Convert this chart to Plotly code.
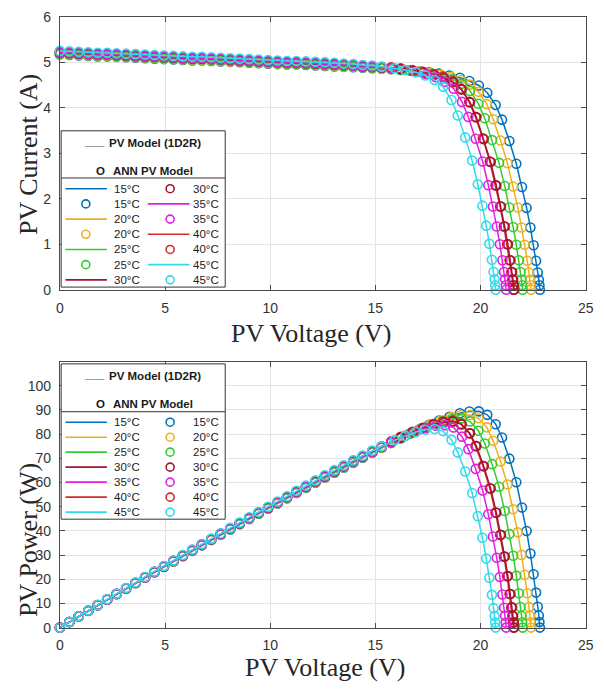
import plotly.graph_objects as go

# ---------------------------------------------------------------- data
TEMPS = [15, 20, 25, 30, 35, 40, 45]
COLORS = {
    15: "#0072BD",
    20: "#EDB120",
    25: "#33CC33",
    30: "#A2142F",
    35: "#E020E0",
    40: "#D62A2A",
    45: "#30DCEB",
}

# voltage samples of the flat (current-source) part of every curve, V
V_GRID = [0.0, 0.45, 0.9, 1.35, 1.8, 2.25, 2.7, 3.15, 3.6, 4.05, 4.5, 4.95,
          5.4, 5.85, 6.3, 6.75, 7.2, 7.65, 8.1, 8.55, 9.0, 9.45, 9.9, 10.35,
          10.8, 11.25, 11.7, 12.15, 12.6, 13.05, 13.5, 13.95, 14.4, 14.85,
          15.3, 15.75, 16.2, 16.65, 17.1, 17.55]

# currents on V_GRID (A)
I15_FLAT = [5.17, 5.16, 5.15, 5.14, 5.13, 5.13, 5.12, 5.11, 5.10, 5.09, 5.08, 5.07,
            5.06, 5.05, 5.04, 5.04, 5.03, 5.02, 5.01, 5.00, 4.99, 4.98, 4.97, 4.96,
            4.95, 4.95, 4.94, 4.93, 4.92, 4.91, 4.90, 4.89, 4.88, 4.87, 4.86, 4.85,
            4.83, 4.82, 4.80, 4.78]
I20_FLAT = [5.18, 5.17, 5.16, 5.15, 5.14, 5.14, 5.13, 5.12, 5.11, 5.10, 5.09, 5.08,
            5.07, 5.06, 5.05, 5.05, 5.04, 5.03, 5.02, 5.01, 5.00, 4.99, 4.98, 4.97,
            4.96, 4.96, 4.95, 4.94, 4.93, 4.92, 4.91, 4.90, 4.89, 4.88, 4.86, 4.85,
            4.84, 4.82, 4.80]
I25_FLAT = [5.19, 5.18, 5.17, 5.16, 5.15, 5.15, 5.14, 5.13, 5.12, 5.11, 5.10, 5.09,
            5.08, 5.07, 5.06, 5.06, 5.05, 5.04, 5.03, 5.02, 5.01, 5.00, 4.99, 4.98,
            4.97, 4.97, 4.96, 4.95, 4.94, 4.93, 4.92, 4.91, 4.90, 4.88, 4.87, 4.86,
            4.84, 4.82]
I30_FLAT = [5.21, 5.20, 5.19, 5.18, 5.17, 5.17, 5.16, 5.15, 5.14, 5.13, 5.12, 5.11,
            5.10, 5.09, 5.08, 5.08, 5.07, 5.06, 5.05, 5.04, 5.03, 5.02, 5.01, 5.00,
            4.99, 4.99, 4.98, 4.97, 4.96, 4.95, 4.94, 4.93, 4.91, 4.90, 4.88, 4.87,
            4.85]
I35_FLAT = [5.22, 5.21, 5.20, 5.19, 5.18, 5.18, 5.17, 5.16, 5.15, 5.14, 5.13, 5.12,
            5.11, 5.10, 5.09, 5.09, 5.08, 5.07, 5.06, 5.05, 5.04, 5.03, 5.02, 5.01,
            5.00, 5.00, 4.99, 4.98, 4.97, 4.96, 4.95, 4.93, 4.92, 4.90, 4.89, 4.87]
I40_FLAT = [5.23, 5.22, 5.21, 5.20, 5.19, 5.19, 5.18, 5.17, 5.16, 5.15, 5.14, 5.13,
            5.12, 5.11, 5.10, 5.10, 5.09, 5.08, 5.07, 5.06, 5.05, 5.04, 5.03, 5.02,
            5.01, 5.01, 5.00, 4.99, 4.98, 4.97, 4.96, 4.95, 4.93, 4.92, 4.90, 4.89,
            4.87]
I45_FLAT = [5.25, 5.24, 5.23, 5.22, 5.21, 5.21, 5.20, 5.19, 5.18, 5.17, 5.16, 5.15,
            5.14, 5.13, 5.12, 5.12, 5.11, 5.10, 5.09, 5.08, 5.07, 5.06, 5.05, 5.04,
            5.03, 5.03, 5.02, 5.01, 5.00, 4.99, 4.97, 4.96, 4.94, 4.93, 4.90]

# knee and fall-off towards open-circuit voltage (V, A)
V15_KNEE = [18.02, 18.52, 19.02, 19.47, 19.92, 20.32, 20.72, 21.02, 21.37, 21.70,
            21.97, 22.19, 22.37, 22.52, 22.64, 22.72, 22.77, 22.80, 22.82]
I15_KNEE = [4.75, 4.71, 4.66, 4.59, 4.49, 4.33, 4.06, 3.74, 3.27, 2.77,
            2.26, 1.80, 1.37, 0.98, 0.64, 0.38, 0.22, 0.10, 0.0]
V20_KNEE = [17.60, 18.10, 18.60, 19.05, 19.50, 19.90, 20.30, 20.60, 20.95, 21.28,
            21.55, 21.77, 21.95, 22.10, 22.22, 22.30, 22.35, 22.38, 22.40]
I20_KNEE = [4.77, 4.73, 4.68, 4.61, 4.51, 4.35, 4.08, 3.75, 3.28, 2.78,
            2.27, 1.81, 1.37, 0.99, 0.64, 0.38, 0.22, 0.10, 0.0]
V25_KNEE = [17.20, 17.70, 18.20, 18.65, 19.10, 19.50, 19.90, 20.20, 20.55, 20.88,
            21.15, 21.37, 21.55, 21.70, 21.82, 21.90, 21.95, 21.98, 22.00]
I25_KNEE = [4.79, 4.75, 4.70, 4.63, 4.53, 4.37, 4.09, 3.77, 3.29, 2.79,
            2.28, 1.81, 1.38, 0.99, 0.65, 0.39, 0.22, 0.10, 0.0]
V30_KNEE = [16.80, 17.30, 17.80, 18.25, 18.70, 19.10, 19.50, 19.80, 20.15, 20.48,
            20.75, 20.97, 21.15, 21.30, 21.42, 21.50, 21.55, 21.58, 21.60]
I30_KNEE = [4.81, 4.77, 4.72, 4.65, 4.56, 4.40, 4.12, 3.79, 3.31, 2.81,
            2.29, 1.83, 1.39, 1.00, 0.65, 0.39, 0.22, 0.10, 0.0]
V35_KNEE = [16.42, 16.92, 17.42, 17.87, 18.32, 18.72, 19.12, 19.42, 19.77, 20.10,
            20.37, 20.59, 20.77, 20.92, 21.04, 21.12, 21.17, 21.20, 21.22]
I35_KNEE = [4.83, 4.79, 4.74, 4.67, 4.57, 4.42, 4.13, 3.80, 3.32, 2.82,
            2.30, 1.83, 1.39, 1.00, 0.65, 0.39, 0.23, 0.10, 0.0]
V40_KNEE = [16.76, 17.26, 17.76, 18.21, 18.66, 19.06, 19.46, 19.76, 20.11, 20.44,
            20.71, 20.93, 21.11, 21.26, 21.38, 21.46, 21.51, 21.54, 21.56]
I40_KNEE = [4.83, 4.79, 4.74, 4.68, 4.58, 4.42, 4.13, 3.80, 3.33, 2.82,
            2.30, 1.83, 1.39, 1.00, 0.65, 0.39, 0.23, 0.10, 0.0]
V45_KNEE = [15.92, 16.42, 16.92, 17.37, 17.82, 18.22, 18.62, 18.92, 19.27, 19.60,
            19.87, 20.09, 20.27, 20.42, 20.54, 20.62, 20.67, 20.70, 20.72]
I45_KNEE = [4.87, 4.83, 4.78, 4.71, 4.61, 4.46, 4.17, 3.83, 3.35, 2.84,
            2.32, 1.85, 1.41, 1.01, 0.66, 0.39, 0.23, 0.10, 0.0]

X_TICKS = [0, 5, 10, 15, 20, 25]
I_TICKS = [0, 1, 2, 3, 4, 5, 6]
P_TICKS = [0, 10, 20, 30, 40, 50, 60, 70, 80, 90, 100]

LEGEND_LINE_TITLE = "PV Model (1D2R)"
LEGEND_MARK_TITLE = "ANN PV Model"

FLAT = {15: I15_FLAT, 20: I20_FLAT, 25: I25_FLAT, 30: I30_FLAT,
        35: I35_FLAT, 40: I40_FLAT, 45: I45_FLAT}
KNEE = {15: (V15_KNEE, I15_KNEE), 20: (V20_KNEE, I20_KNEE),
        25: (V25_KNEE, I25_KNEE), 30: (V30_KNEE, I30_KNEE),
        35: (V35_KNEE, I35_KNEE), 40: (V40_KNEE, I40_KNEE),
        45: (V45_KNEE, I45_KNEE)}

curves = {}
for t in TEMPS:
    flat = FLAT[t]
    kv, ki = KNEE[t]
    v = V_GRID[:len(flat)] + kv
    i = flat + ki
    p = [a * b for a, b in zip(v, i)]
    curves[t] = (v, i, p)

# ---------------------------------------------------------------- figure
W, H = 604, 691
fig = go.Figure()

DRAW_ORDER = [15, 20, 25, 40, 30, 35, 45]
for t in DRAW_ORDER:
    v, i, p = curves[t]
    c = COLORS[t]
    for ys, xa, ya in ((i, "x", "y"), (p, "x2", "y2")):
        fig.add_trace(go.Scatter(
            x=v, y=ys, xaxis=xa, yaxis=ya, mode="lines",
            line=dict(color=c, width=1.5), showlegend=False,
            hoverinfo="skip"))
        fig.add_trace(go.Scatter(
            x=v, y=ys, xaxis=xa, yaxis=ya, mode="markers",
            marker=dict(symbol="circle-open", size=9, color=c,
                        line=dict(color=c, width=1.6)),
            cliponaxis=False, showlegend=False, name=f"{t}°C"))


def px(x):
    return x / W


def py(y):
    return 1 - y / H


AX_COLOR = "#4a4a4a"
GRID = "#e4e4e4"
TICK_FONT = dict(family="Liberation Sans, Arial", size=14, color="#333333")
common = dict(showgrid=True, gridcolor=GRID, gridwidth=1, showline=True,
              linecolor=AX_COLOR, linewidth=1, mirror="ticks", ticks="inside",
              ticklen=5, tickcolor=AX_COLOR, zeroline=False, tickfont=TICK_FONT,
              ticklabelstandoff=5)

XDOM = [px(57), px(593.5)]
fig.update_layout(
    width=W, height=H, margin=dict(l=0, r=0, t=0, b=0),
    paper_bgcolor="white", plot_bgcolor="white", showlegend=False,
    xaxis=dict(domain=XDOM, range=[0, 25], tickvals=X_TICKS, anchor="y", **common),
    yaxis=dict(domain=[py(288.5), py(9)], range=[0, 6], tickvals=I_TICKS,
               anchor="x", **common),
    xaxis2=dict(domain=XDOM, range=[0, 25], tickvals=X_TICKS, anchor="y2", **common),
    yaxis2=dict(domain=[py(634.3), py(362)], range=[0, 110], tickvals=P_TICKS,
                anchor="x2", **common),
)

annotations = []
shapes = []

TITLE_FONT = dict(family="Liberation Serif, DejaVu Serif", size=26, color="#262626")
for text, x, y, ang in (("PV Voltage (V)", 313, 333, 0),
                        ("PV Current (A)", 25, 150, -90),
                        ("PV Voltage (V)", 328, 675, 0),
                        ("PV Power (W)", 25, 545, -90)):
    annotations.append(dict(text=text, x=px(x), y=py(y), xref="paper", yref="paper",
                            showarrow=False, textangle=ang, font=TITLE_FONT,
                            xanchor="center", yanchor="middle"))

LEG_FONT = dict(family="Liberation Sans, Arial", size=11.5, color="#1a1a1a")
LEG_BOLD = dict(family="Liberation Sans, Arial", size=11.5, color="#1a1a1a")


def legend_box(top, divider, bottom, t1, t2, rows):
    left, right = 58.3, 225.7
    shapes.append(dict(type="rect", xref="paper", yref="paper",
                       x0=px(left), x1=px(right), y0=py(bottom), y1=py(top),
                       fillcolor="white", line=dict(color="#333333", width=1),
                       layer="above"))
    shapes.append(dict(type="line", xref="paper", yref="paper",
                       x0=px(left), x1=px(right), y0=py(divider), y1=py(divider),
                       line=dict(color="#333333", width=1), layer="above"))
    annotations.append(dict(text="<b>___</b>", x=px(92), y=py(t1 - 2), xref="paper",
                            yref="paper", showarrow=False, font=LEG_BOLD,
                            xanchor="center", yanchor="middle"))
    annotations.append(dict(text=f"<b>{LEGEND_LINE_TITLE}</b>", x=px(105), y=py(t1),
                            xref="paper", yref="paper", showarrow=False, font=LEG_BOLD,
                            xanchor="left", yanchor="middle"))
    annotations.append(dict(text="<b>O</b>", x=px(98), y=py(t2), xref="paper",
                            yref="paper", showarrow=False, font=LEG_BOLD,
                            xanchor="center", yanchor="middle"))
    annotations.append(dict(text=f"<b>{LEGEND_MARK_TITLE}</b>", x=px(109), y=py(t2),
                            xref="paper", yref="paper", showarrow=False, font=LEG_BOLD,
                            xanchor="left", yanchor="middle"))
    # rows: list of (column, kind, temp, y)
    for col, kind, t, y in rows:
        c = COLORS[t]
        if col == 0:
            lx0, lx1, cx = 62.7, 105, 83.5
        else:
            lx0, lx1, cx = 146.7, 189.3, 169.5
        if kind == "line":
            shapes.append(dict(type="line", xref="paper", yref="paper",
                               x0=px(lx0), x1=px(lx1), y0=py(y), y1=py(y),
                               line=dict(color=c, width=1.6), layer="above"))
        else:
            shapes.append(dict(type="circle", xref="paper", yref="paper",
                               xsizemode="pixel", ysizemode="pixel",
                               xanchor=px(cx), yanchor=py(y),
                               x0=-4, x1=4, y0=-4, y1=4,
                               line=dict(color=c, width=1.6), layer="above"))
        if col == 0:
            annotations.append(dict(text=f"{t}°C", x=px(110.5), y=py(y),
                                    xref="paper", yref="paper", showarrow=False,
                                    font=LEG_FONT, xanchor="left", yanchor="middle"))
        else:
            annotations.append(dict(text=f"{t}°C", x=px(221), y=py(y),
                                    xref="paper", yref="paper", showarrow=False,
                                    font=LEG_FONT, xanchor="right", yanchor="middle"))


# upper panel: entries run down the first column, then the second
entries = []
for t in TEMPS:
    entries.append(("line", t))
    entries.append(("mark", t))
top_rows_y = [185.0 + 15.55 * k for k in range(7)]
rows = []
for n, (kind, t) in enumerate(entries):
    rows.append((n // 7, kind, t, top_rows_y[n % 7]))
legend_box(125.7, 174.0, 285.7, 138.0, 166.7, rows)

# lower panel: lines in the first column, markers in the second
bot_rows_y = [424.0 + 15.35 * k for k in range(7)]
rows = []
for k, t in enumerate(TEMPS):
    rows.append((0, "line", t, bot_rows_y[k]))
    rows.append((1, "mark", t, bot_rows_y[k]))
legend_box(364.3, 413.3, 523.3, 376.7, 405.0, rows)

fig.update_layout(annotations=annotations, shapes=shapes)
fig.write_html("out.html")
